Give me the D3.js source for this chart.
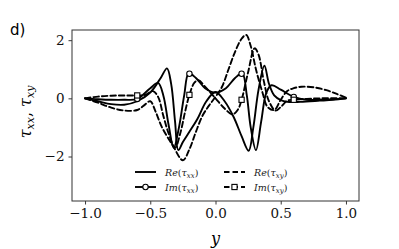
<!DOCTYPE html>
<html><head><meta charset="utf-8">
<script src="https://cdn.jsdelivr.net/npm/d3@7"></script>
<style>body{margin:0;background:#fff}svg{display:block}</style>
</head><body>
<svg id="c" width="399" height="249"></svg>
<script>
// y positions and values for each series
const reTxxY = [-1,-0.9,-0.8,-0.7,-0.6,-0.5,-0.42,-0.372,-0.34,-0.31,-0.285,-0.25,-0.2,-0.14,-0.07,0,0.07,0.14,0.2,0.254,0.29,0.33,0.375,0.41,0.45,0.5,0.55,0.65,0.8,0.9,1];
const reTxx  = [0,-0.1,-0.2,-0.22,-0.1,0.2,0.7,1.03,0.5,-0.8,-1.78,-1.5,-1.15,-0.72,-0.1,0.22,-0.1,-0.65,-1.3,-1.8,-1.0,0.3,1.12,0.5,0.1,-0.06,-0.12,-0.12,-0.08,-0.05,0];
const imTxxY = [-1,-0.9,-0.8,-0.7,-0.6,-0.5,-0.44,-0.4,-0.36,-0.32,-0.28,-0.24,-0.205,-0.15,-0.08,0,0.08,0.15,0.205,0.24,0.27,0.31,0.35,0.39,0.43,0.5,0.6,0.7,0.8,0.9,1];
const imTxx  = [0,-0.03,-0.05,-0.05,-0.02,0.35,0.53,0.1,-0.9,-1.7,-1.0,0.1,0.86,0.7,0.35,0.2,0.35,0.7,0.86,0.1,-1.0,-1.78,-0.8,0.2,0.45,0.3,0.05,-0.05,-0.05,-0.03,0];
const reTxyY = [-1,-0.9,-0.8,-0.7,-0.6,-0.55,-0.5,-0.46,-0.41,-0.33,-0.25,-0.2,-0.15,-0.1,-0.05,0,0.05,0.1,0.15,0.2,0.235,0.27,0.31,0.36,0.4,0.45,0.5,0.55,0.6,0.66,0.75,0.85,0.93,1];
const reTxy  = [0,-0.15,-0.32,-0.42,-0.4,-0.25,-0.1,-0.45,-1.0,-1.6,-2.13,-1.75,-1.15,-0.6,-0.25,0.05,0.4,1.0,1.6,2.05,2.18,1.8,1.0,0.2,-0.3,-0.4,-0.05,0.25,0.35,0.4,0.38,0.28,0.15,0.02];
const imTxyY = [-1,-0.9,-0.8,-0.7,-0.6,-0.54,-0.48,-0.44,-0.4,-0.36,-0.31,-0.27,-0.235,-0.2,-0.16,-0.13,-0.08,0,0.07,0.13,0.17,0.2,0.25,0.3,0.33,0.37,0.41,0.46,0.5,0.55,0.6,0.7,0.8,1];
const imTxy  = [0,0.06,0.09,0.1,0.1,0.12,0.25,0.05,-0.6,-1.2,-1.7,-1.2,-0.5,0.12,0.55,0.62,0.4,0,-0.35,-0.55,-0.4,-0.05,0.9,1.72,1.5,0.6,-0.1,-0.42,-0.3,-0.08,-0.05,-0.02,0,0];
const markerY = [-0.6,-0.2,0.2,0.6];
const xTicks = [-1.0,-0.5,0.0,0.5,1.0];
const yTicks = [-2,0,2];

const svg = d3.select("#c");
const x = d3.scaleLinear().domain([-1.1,1.1]).range([72,359]);
const yS = d3.scaleLinear().domain([-3.53,2.35]).range([201,30]);
const fmtX = d => (d<0?"\u2212":"") + Math.abs(d).toFixed(1);
const fmtY = d => (d<0?"\u2212":"") + Math.abs(d);

const gx = svg.append("g").attr("transform","translate(0,201)")
  .call(d3.axisBottom(x).tickValues(xTicks).tickFormat(fmtX).tickSize(3.5).tickPadding(4));
const gy = svg.append("g").attr("transform","translate(72,0)")
  .call(d3.axisLeft(yS).tickValues(yTicks).tickFormat(fmtY).tickSize(3.5).tickPadding(4));
[gx,gy].forEach(g=>{
  g.select(".domain").remove();
  g.selectAll("line").attr("stroke","#222").attr("stroke-width",0.9);
  g.selectAll("text").attr("font-family","'DejaVu Serif', serif").attr("font-size",13.5).attr("fill","#111");
});

const clip = svg.append("clipPath").attr("id","cp").append("rect")
  .attr("x",72).attr("y",30).attr("width",287).attr("height",171);
const plot = svg.append("g").attr("clip-path","url(#cp)");

function interp(xs, vs, t){
  for(let i=0;i<xs.length-1;i++){ if(t>=xs[i]&&t<=xs[i+1]){const f=(t-xs[i])/(xs[i+1]-xs[i]);return vs[i]+f*(vs[i+1]-vs[i]);} }
  return vs[vs.length-1];
}
const line = d3.line().x(d=>x(d[0])).y(d=>yS(d[1])).curve(d3.curveCatmullRom.alpha(0.5));
const series = [
  {xs:reTxxY, vs:reTxx, dash:null},
  {xs:imTxxY, vs:imTxx, dash:null, marker:"circle"},
  {xs:reTxyY, vs:reTxy, dash:"5.5,3"},
  {xs:imTxyY, vs:imTxy, dash:"5.5,3", marker:"square"}
];
series.forEach(s=>{
  plot.append("path").datum(d3.zip(s.xs,s.vs)).attr("d",line)
    .attr("fill","none").attr("stroke","#000").attr("stroke-width",1.9)
    .attr("stroke-linecap","round")
    .attr("stroke-dasharray",s.dash);
});
series.forEach(s=>{
  if(!s.marker) return;
  markerY.forEach(t=>{
    const cx=x(t), cy=yS(interp(s.xs,s.vs,t));
    if(s.marker==="circle") plot.append("circle").attr("cx",cx).attr("cy",cy).attr("r",2.7).attr("fill","#fff").attr("stroke","#000").attr("stroke-width",1.1);
    else plot.append("rect").attr("x",cx-2.6).attr("y",cy-2.6).attr("width",5.2).attr("height",5.2).attr("fill","#fff").attr("stroke","#000").attr("stroke-width",1.1);
  });
});

svg.append("rect").attr("x",72).attr("y",30).attr("width",287).attr("height",171)
  .attr("fill","none").attr("stroke","#333").attr("stroke-width",1);

// legend
const leg = svg.append("g");
const legItems = [
  {name:"Re", sub:"xx", col:0, row:0, dash:null},
  {name:"Im", sub:"xx", col:0, row:1, dash:null, marker:"circle"},
  {name:"Re", sub:"xy", col:1, row:0, dash:"5.5,3"},
  {name:"Im", sub:"xy", col:1, row:1, dash:"5.5,3", marker:"square"}
];
legItems.forEach(it=>{
  const x0 = it.col===0?135:224, y0 = it.row===0?172:187;
  leg.append("line").attr("x1",x0).attr("x2",x0+21).attr("y1",y0).attr("y2",y0)
    .attr("stroke","#000").attr("stroke-width",1.9).attr("stroke-dasharray",it.dash);
  if(it.marker==="circle") leg.append("circle").attr("cx",x0+10.5).attr("cy",y0).attr("r",2.7).attr("fill","#fff").attr("stroke","#000").attr("stroke-width",1.1);
  if(it.marker==="square") leg.append("rect").attr("x",x0+7.9).attr("y",y0-2.6).attr("width",5.2).attr("height",5.2).attr("fill","#fff").attr("stroke","#000").attr("stroke-width",1.1);
  const t = leg.append("text").attr("x",x0+30).attr("y",y0+3.5)
    .attr("font-family","'DejaVu Serif', serif").attr("font-size",9.5).attr("fill","#222");
  t.append("tspan").attr("font-style","italic").text(it.name);
  t.append("tspan").text("(");
  t.append("tspan").attr("font-style","italic").text("\u03c4");
  t.append("tspan").attr("font-style","italic").attr("font-size",7).attr("dy",2).text(it.sub);
  t.append("tspan").attr("dy",-2).text(")");
});

// axis labels
svg.append("text").attr("x",215.5).attr("y",244).attr("text-anchor","middle")
  .attr("font-family","'DejaVu Serif', serif").attr("font-style","italic").attr("font-size",16).text("y");
const yl = svg.append("text").attr("transform","translate(31,112) rotate(-90)").attr("text-anchor","middle")
  .attr("font-family","'DejaVu Serif', serif").attr("font-size",16);
yl.append("tspan").attr("font-style","italic").text("\u03c4");
yl.append("tspan").attr("font-style","italic").attr("font-size",11).attr("dy",3).text("xx");
yl.append("tspan").attr("dy",-3).text(", ");
yl.append("tspan").attr("font-style","italic").text("\u03c4");
yl.append("tspan").attr("font-style","italic").attr("font-size",11).attr("dy",3).text("xy");

svg.append("text").attr("x",10).attr("y",35).attr("font-family","'DejaVu Sans', sans-serif")
  .attr("font-size",15).text("d)");
</script>
</body></html>
